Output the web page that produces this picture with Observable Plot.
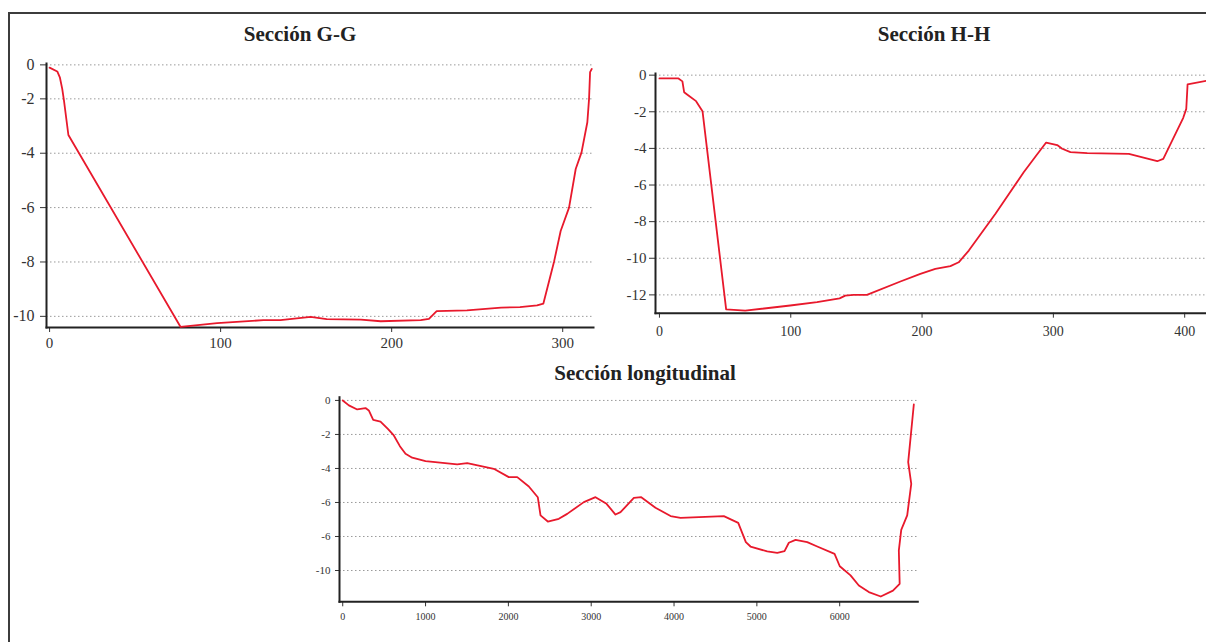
<!DOCTYPE html>
<html><head><meta charset="utf-8">
<script src="https://cdn.jsdelivr.net/npm/d3@7"></script>
<script src="https://cdn.jsdelivr.net/npm/@observablehq/plot@0.6"></script>
<style>
html,body{margin:0;padding:0;overflow:hidden;background:#fff;}
#wrap{position:relative;width:1206px;height:642px;overflow:hidden;font-family:"Liberation Serif",serif;}
.frame{position:absolute;left:8px;top:12px;width:1400px;height:800px;border:2px solid #3c3c3c;}
.title{position:absolute;font-weight:bold;font-size:21px;color:#222;transform:translateX(-50%);white-space:nowrap;line-height:1;z-index:2;}
.chart{position:absolute;}
.chart svg{max-width:none !important;}
</style></head><body>
<div id="wrap">
  <div class="frame"></div>
  <div class="title" style="left:300px;top:24px;">Sección G-G</div>
  <div class="title" style="left:934px;top:24px;">Sección H-H</div>
  <div class="title" style="left:645px;top:363px;">Sección longitudinal</div>
  <div class="chart" id="gg" style="left:0px;top:0px;width:600px;"></div>
  <div class="chart" id="hh" style="left:600px;top:0px;width:620px;"></div>
  <div class="chart" id="lon" style="left:280px;top:380px;width:660px;"></div>
</div>
<script>
// ---- Sección G-G ----
const ggX = [0, 4.5, 6, 7.4, 8.4, 11, 76.6, 98, 125, 135, 152.6, 162, 182, 193.6, 217, 221.8, 226.3, 244, 264, 275, 285, 288.7, 295, 298.8, 303.7, 307.6, 311, 314.4, 315.4, 316, 317];
const ggY = [-0.16, -0.39, -0.73, -1.41, -2.06, -3.33, -10.39, -10.25, -10.14, -10.14, -10.02, -10.1, -10.12, -10.18, -10.14, -10.09, -9.81, -9.78, -9.68, -9.66, -9.6, -9.53, -7.97, -6.86, -6.0, -4.58, -3.97, -2.86, -2.0, -0.43, -0.24];
const ggXTicks = [0, 100, 200, 300];
const ggYTicks = [0, -2, -4, -6, -8, -10];
const ggYLabels = ["0", "-2", "-4", "-6", "-8", "-10"];

// ---- Sección H-H ----
const hhX = [0, 14.5, 17.5, 18.8, 22.1, 27.9, 32.8, 50.8, 65.3, 99.6, 120, 137.2, 141.5, 147.9, 158, 183.5, 198.7, 210.1, 221.6, 227.9, 235.6, 255.9, 277.4, 286.4, 294.5, 302.9, 306.7, 313, 325.8, 357.5, 379.1, 383.7, 398.9, 401.2, 402.2, 416.4];
const hhY = [-0.18, -0.18, -0.34, -0.93, -1.11, -1.42, -1.97, -12.79, -12.86, -12.58, -12.4, -12.19, -12.04, -12.0, -12.0, -11.27, -10.85, -10.58, -10.43, -10.22, -9.58, -7.57, -5.3, -4.44, -3.68, -3.82, -4.02, -4.2, -4.26, -4.3, -4.7, -4.57, -2.33, -1.84, -0.51, -0.31];
const hhXTicks = [0, 100, 200, 300, 400];
const hhYTicks = [0, -2, -4, -6, -8, -10, -12];
const hhYLabels = ["0", "-2", "-4", "-6", "-8", "-10", "-12"];

// ---- Sección longitudinal ----
const lonX = [0, 74, 175, 275, 315, 368, 456, 545, 617, 690, 758, 839, 1000, 1382, 1503, 1824, 2005, 2107, 2247, 2355, 2388, 2476, 2609, 2710, 2911, 3052, 3185, 3293, 3354, 3515, 3604, 3776, 3958, 4078, 4601, 4775, 4867, 4923, 5125, 5246, 5334, 5386, 5467, 5608, 5729, 5938, 6001, 6131, 6231, 6352, 6496, 6643, 6724, 6714, 6743, 6815, 6864, 6827, 6895];
const lonY = [0, -0.29, -0.53, -0.45, -0.59, -1.14, -1.24, -1.67, -2.06, -2.69, -3.14, -3.37, -3.57, -3.76, -3.69, -4.02, -4.51, -4.51, -5.06, -5.69, -6.76, -7.12, -6.96, -6.67, -5.98, -5.69, -6.08, -6.71, -6.57, -5.73, -5.69, -6.31, -6.8, -6.9, -6.8, -7.2, -8.33, -8.59, -8.88, -8.96, -8.86, -8.37, -8.2, -8.33, -8.59, -9.02, -9.75, -10.29, -10.88, -11.27, -11.53, -11.18, -10.78, -8.82, -7.61, -6.76, -4.9, -3.63, -0.24];
const lonXTicks = [0, 1000, 2000, 3000, 4000, 5000, 6000];
const lonYTicks = [0, -2, -4, -6, -8, -10];
const lonYLabels = ["0", "-2", "-4", "-6", "-6", "-10"];

const RED = "#e8192c";
const rows = (xs, ys) => xs.map((x, i) => ({x, y: ys[i]}));

// G-G's vertical axis is compressed between 0 and -2 (as in the original figure)
const ggWarp = v => (v >= -2 ? -2 + (v + 2) * 0.625 : v);

function chart(o) {
  const warp = o.yTransform || (v => v);
  const yTickPos = o.yTicks.map(warp);
  const ylab = new Map(yTickPos.map((t, i) => [t, o.yLabels[i]]));
  const yScale = {domain: o.yDomain};
  if (o.yTransform) yScale.transform = o.yTransform;
  return Plot.plot({
    width: o.width, height: o.height,
    marginLeft: o.ml, marginRight: o.mr, marginTop: o.mt, marginBottom: o.mb,
    style: {fontFamily: '"Liberation Serif", serif', background: "transparent", overflow: "visible", color: "#333", maxWidth: "none"},
    x: {domain: o.xDomain},
    y: yScale,
    marks: [
      Plot.gridY({ticks: yTickPos, stroke: "#9a9a9a", strokeOpacity: 1, strokeWidth: 1, strokeDasharray: "1.5,2.5"}),
      Plot.axisY({ticks: yTickPos, tickFormat: d => ylab.get(d), fontSize: o.yFont, tickSize: o.yTickSize, tickPadding: o.yPad, color: "#333", label: null}),
      Plot.axisX({ticks: o.xTicks, tickFormat: d => String(d), fontSize: o.xFont, tickSize: o.xTickSize, tickPadding: o.xPad, color: "#333", label: null}),
      Plot.frame({anchor: "left", stroke: "#222", strokeWidth: 2}),
      Plot.frame({anchor: "bottom", stroke: "#222", strokeWidth: 2}),
      Plot.line(rows(o.xs, o.ys), {x: "x", y: "y", stroke: RED, strokeWidth: 1.8, strokeLinejoin: "round"})
    ]
  });
}

document.getElementById("gg").append(chart({
  width: 600, height: 360, ml: 46, mr: 7, mt: 63, mb: 33,
  xDomain: [-1.8, 318], yDomain: [-10.41, -0.70], yTransform: ggWarp,
  xTicks: ggXTicks, yTicks: ggYTicks, yLabels: ggYLabels,
  yFont: 16, xFont: 15, yTickSize: 6, yPad: 6, xTickSize: 5, xPad: 5,
  xs: ggX, ys: ggY
}));

document.getElementById("hh").append(chart({
  width: 620, height: 350, ml: 55, mr: 4.3, mt: 73, mb: 37.3,
  xDomain: [-3, 424], yDomain: [-13.0, 0.09],
  xTicks: hhXTicks, yTicks: hhYTicks, yLabels: hhYLabels,
  yFont: 15, xFont: 14, yTickSize: 6, yPad: 3, xTickSize: 5, xPad: 8,
  xs: hhX, ys: hhY
}));

document.getElementById("lon").append(chart({
  width: 660, height: 262, ml: 59, mr: 22.7, mt: 16.7, mb: 40.7,
  xDomain: [-39, 6943], yDomain: [-11.84, 0.19],
  xTicks: lonXTicks, yTicks: lonYTicks, yLabels: lonYLabels,
  yFont: 11, xFont: 10, yTickSize: 4, yPad: 5, xTickSize: 5, xPad: 6,
  xs: lonX, ys: lonY
}));
</script>
</body></html>
